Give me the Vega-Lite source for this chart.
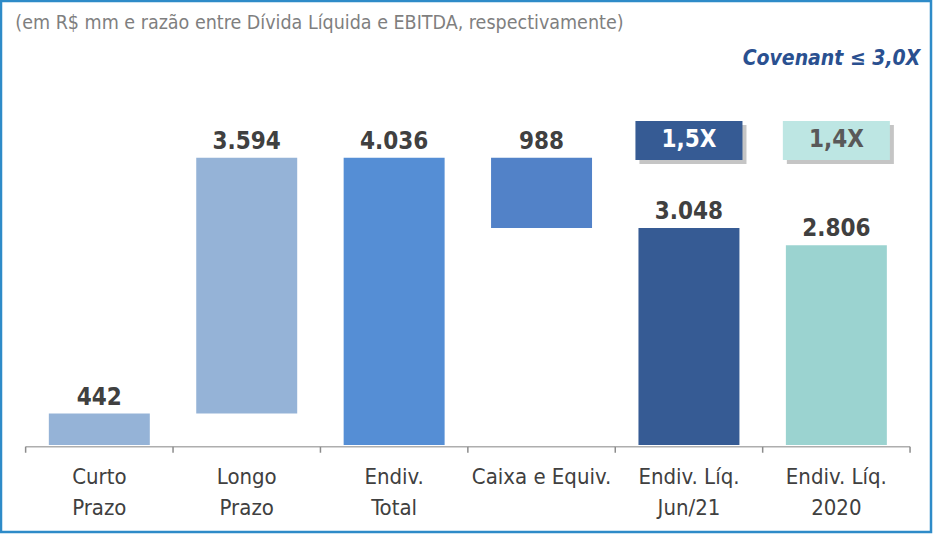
{
  "$schema": "https://vega.github.io/schema/vega-lite/v6.json",
  "width": 930,
  "height": 531,
  "autosize": "none",
  "padding": {"left": 1, "top": 1, "right": 2, "bottom": 2},
  "background": "white",
  "config": {
    "view": {"stroke": "#2E8BC8", "strokeWidth": 2.5},
    "font": "DejaVu Sans Condensed, Liberation Sans"
  },
  "datasets": {
    "bars": [
      {"cat": "Curto|Prazo", "low": 0, "high": 442, "label": "442"},
      {"cat": "Longo|Prazo", "low": 442, "high": 4036, "label": "3.594"},
      {"cat": "Endiv.|Total", "low": 0, "high": 4036, "label": "4.036"},
      {"cat": "Caixa e Equiv.", "low": 3048, "high": 4036, "label": "988"},
      {"cat": "Endiv. Líq.|Jun/21", "low": 0, "high": 3048, "label": "3.048"},
      {"cat": "Endiv. Líq.|2020", "low": 0, "high": 2806, "label": "2.806"}
    ],
    "ratios": [
      {"cat": "Endiv. Líq.|Jun/21", "ratio": "1,5X"},
      {"cat": "Endiv. Líq.|2020", "ratio": "1,4X"}
    ],
    "notes": [
      {"cat": "Curto|Prazo", "note": "(em R$ mm e razão entre Dívida Líquida e EBITDA, respectivamente)"}
    ],
    "covenant": [
      {"cat": "Endiv. Líq.|2020", "note": "Covenant  ≤ 3,0X"}
    ]
  },
  "resolve": {"scale": {"color": "independent", "fill": "independent"}},
  "layer": [
    {
      "data": {"name": "bars"},
      "mark": {"type": "tick", "orient": "horizontal", "size": 147.4, "thickness": 1.6, "color": "#8C8C8C", "yOffset": 1.7},
      "encoding": {
        "x": {
          "field": "cat", "type": "nominal", "title": null,
          "scale": {
            "domain": ["Curto|Prazo", "Longo|Prazo", "Endiv.|Total", "Caixa e Equiv.", "Endiv. Líq.|Jun/21", "Endiv. Líq.|2020"],
            "paddingInner": 0.315, "paddingOuter": 0.312, "align": 0.52
          },
          "axis": {
            "domain": false, "grid": false, "ticks": false,
            "labelExpr": "split(datum.label, '|')", "labelAngle": 0,
            "labelFont": "DejaVu Sans Condensed, Liberation Sans", "labelFontSize": 22,
            "labelColor": "#404040", "labelPadding": 19, "labelLineHeight": 31,
            "offset": -85
          }
        },
        "y": {"datum": 0, "type": "quantitative", "scale": {"domain": [-1222, 6236], "nice": false, "zero": false}, "axis": null}
      }
    },
    {
      "data": {"name": "bars"},
      "mark": {"type": "rule", "color": "#8C8C8C", "strokeWidth": 1.5, "xOffset": -23.2, "yOffset": 1.7, "y2Offset": 1.7},
      "encoding": {
        "x": {"field": "cat", "type": "nominal", "bandPosition": 0},
        "y": {"datum": 0, "type": "quantitative"},
        "y2": {"datum": -85}
      }
    },
    {
      "data": {"name": "covenant"},
      "mark": {"type": "rule", "color": "#8C8C8C", "strokeWidth": 1.5, "xOffset": 23.2, "yOffset": 1.7, "y2Offset": 1.7},
      "encoding": {
        "x": {"field": "cat", "type": "nominal", "bandPosition": 1},
        "y": {"datum": 0, "type": "quantitative"},
        "y2": {"datum": -85}
      }
    },
    {
      "data": {"name": "bars"},
      "mark": {"type": "bar"},
      "encoding": {
        "x": {"field": "cat", "type": "nominal"},
        "y": {"field": "low", "type": "quantitative"},
        "y2": {"field": "high"},
        "color": {
          "field": "cat", "type": "nominal", "legend": null,
          "scale": {
            "domain": ["Curto|Prazo", "Longo|Prazo", "Endiv.|Total", "Caixa e Equiv.", "Endiv. Líq.|Jun/21", "Endiv. Líq.|2020"],
            "range": ["#95B3D7", "#95B3D7", "#558ED5", "#5282C8", "#365B94", "#9BD3D0"]
          }
        }
      }
    },
    {
      "data": {"name": "bars"},
      "mark": {"type": "text", "fontWeight": "bold", "fontSize": 24, "color": "#404040", "baseline": "alphabetic", "dy": -9},
      "encoding": {
        "x": {"field": "cat", "type": "nominal"},
        "y": {"field": "high", "type": "quantitative"},
        "text": {"field": "label"}
      }
    },
    {
      "data": {"name": "ratios"},
      "mark": {"type": "bar", "width": {"band": 1.06}, "color": "#7F7F7F", "opacity": 0.45, "xOffset": 4, "x2Offset": 4, "yOffset": 4, "y2Offset": 4},
      "encoding": {
        "x": {"field": "cat", "type": "nominal"},
        "y": {"datum": 4003, "type": "quantitative"},
        "y2": {"datum": 4551}
      }
    },
    {
      "data": {"name": "ratios"},
      "mark": {"type": "bar", "width": {"band": 1.06}},
      "encoding": {
        "x": {"field": "cat", "type": "nominal"},
        "y": {"datum": 4003, "type": "quantitative"},
        "y2": {"datum": 4551},
        "fill": {"field": "ratio", "type": "nominal", "legend": null, "scale": {"domain": ["1,5X", "1,4X"], "range": ["#365B94", "#BDE6E3"]}}
      }
    },
    {
      "data": {"name": "ratios"},
      "mark": {"type": "text", "fontWeight": "bold", "fontSize": 24, "baseline": "middle"},
      "encoding": {
        "x": {"field": "cat", "type": "nominal"},
        "y": {"datum": 4277, "type": "quantitative"},
        "text": {"field": "ratio"},
        "color": {"field": "ratio", "type": "nominal", "legend": null, "scale": {"domain": ["1,5X", "1,4X"], "range": ["#FFFFFF", "#595959"]}}
      }
    },
    {
      "data": {"name": "notes"},
      "mark": {"type": "text", "fontSize": 19.5, "color": "#7F7F7F", "align": "left", "baseline": "alphabetic", "dx": -33.5},
      "encoding": {
        "x": {"field": "cat", "type": "nominal", "bandPosition": 0},
        "y": {"datum": 5843, "type": "quantitative"},
        "text": {"field": "note"}
      }
    },
    {
      "data": {"name": "covenant"},
      "mark": {"type": "text", "fontSize": 21, "fontWeight": "bold", "fontStyle": "italic", "color": "#2A5090", "align": "right", "baseline": "alphabetic", "dx": 33.5},
      "encoding": {
        "x": {"field": "cat", "type": "nominal", "bandPosition": 1},
        "y": {"datum": 5337, "type": "quantitative"},
        "text": {"field": "note"}
      }
    }
  ]
}
